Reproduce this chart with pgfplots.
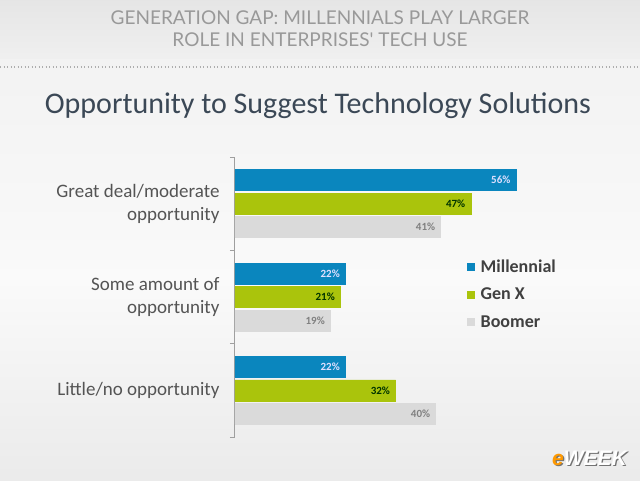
\documentclass[border=0pt]{standalone}
\usepackage{pgfplots}
\pgfplotsset{compat=1.18}
\usepackage{fontspec}
\setmainfont{Carlito}
\newfontfamily\headfont{Lato}
\newfontfamily\logofont{Liberation Sans}
\usetikzlibrary{shadings}

\definecolor{millblue}{HTML}{0A86BE}
\definecolor{genxgreen}{HTML}{AAC40C}
\definecolor{boomgray}{HTML}{DADADA}
\definecolor{titlecol}{HTML}{3B4856}
\definecolor{labcol}{HTML}{545454}
\definecolor{headcol}{HTML}{999999}

\pgfplotstableread{
cat mill genx boom
2 56 47 41
1 22 21 19
0 22 32 40
}\survey

\begin{document}
\begin{tikzpicture}[x=1pt,y=1pt]
% page background
\shade[top color=white!90!black, bottom color=white!94!black] (0,420) rectangle (640,480);
\shade[top color=white!95!black, bottom color=white!98!black] (0,200) rectangle (640,420);
\shade[top color=white!98!black, bottom color=white!92!black] (0,0) rectangle (640,200);
\useasboundingbox (0,0) rectangle (640,480);

% header
\node[font=\headfont\fontsize{19}{22}\selectfont, text=headcol, align=center] at (320,451)
  {GENERATION GAP: MILLENNIALS PLAY LARGER\\ROLE IN ENTERPRISES' TECH USE};
\draw[headcol!80, line width=1.2pt, dash pattern=on 1.2pt off 2.3pt] (0,413) -- (640,413);

% chart title
\node[font=\fontsize{30}{34}\selectfont, text=titlecol] at (318,374)
  {Opportunity to Suggest Technology Solutions};

\begin{axis}[
  at={(235pt,43pt)}, anchor=south west,
  scale only axis, width=301pt, height=280pt,
  xbar, bar width=21pt,
  xmin=0, xmax=60,
  ymin=-0.5, ymax=2.5,
  axis x line=none,
  axis y line*=left,
  y axis line style={draw=gray!75, line width=1pt, -},
  ytick={-0.5,0.5,1.5,2.5}, yticklabels={},
  tick align=outside, major tick length=5pt,
  ytick style={draw=gray!75, line width=1pt},
  extra y ticks={0,1,2},
  extra y tick labels={Little/no opportunity, {Some amount of\\opportunity}, {Great deal/moderate\\opportunity}},
  extra y tick style={major tick length=0pt, tick style={draw=none},
    yticklabel style={align=right, font=\fontsize{19}{23}\selectfont, text=labcol, xshift=-12pt}},
  /pgf/number format/assume math mode=true,
  nodes near coords={\pgfmathprintnumber{\pgfplotspointmeta}\%},
  nodes near coords style={anchor=east, xshift=-2pt, font=\bfseries\fontsize{11}{12}\selectfont},
  legend style={at={(0.771,0.64)}, anchor=north west, draw=none, fill=none,
    font=\bfseries\fontsize{18}{20}\selectfont, text=black!75, row sep=10pt,
    inner sep=0pt, nodes={inner sep=2pt}},
  legend cell align=left,
  legend image code/.code={\fill (0pt,-3.5pt) rectangle (7pt,3.5pt); \path (11pt,0pt);},
]
\addplot[fill=millblue, draw=millblue, bar shift=23.5pt,
  nodes near coords style={text=white!88!blue}] table[x=mill, y=cat] {\survey};
\addplot[fill=genxgreen, draw=genxgreen, bar shift=0pt,
  nodes near coords style={text=black!80!green}] table[x=genx, y=cat] {\survey};
\addplot[fill=boomgray, draw=boomgray, bar shift=-23.5pt,
  nodes near coords style={text=gray}] table[x=boom, y=cat] {\survey};
\legend{Millennial, Gen X, Boomer}
\end{axis}

% logo
\node[font=\logofont\bfseries\itshape\fontsize{21}{24}\selectfont, text=black!55] at (590.8,20.2)
  {\textcolor{black!55}{e}WEEK};
\node[font=\logofont\bfseries\itshape\fontsize{21}{24}\selectfont] at (589.5,21.5)
  {\textcolor{orange!80!yellow}{e}\textcolor{white}{WEEK}};
\end{tikzpicture}
\end{document}
